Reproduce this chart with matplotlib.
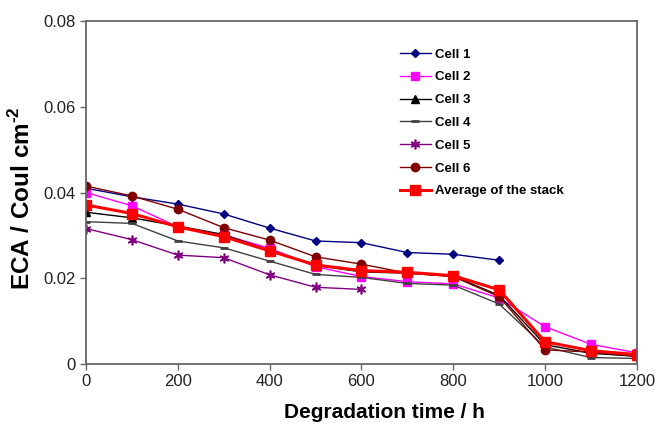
import matplotlib
matplotlib.use("Agg")
import matplotlib.pyplot as plt

plt.rcParams['font.family'] = ['Liberation Sans', 'DejaVu Sans']
plt.rcParams['mathtext.fontset'] = 'custom'
plt.rcParams['mathtext.rm'] = 'Liberation Sans:bold'
plt.rcParams['mathtext.bf'] = 'Liberation Sans:bold'

hours = [0, 100, 200, 300, 400, 500, 600, 700, 800, 900, 1000, 1100, 1200]

cell1 = [0.0410, 0.0390, 0.0373, 0.0350, 0.0317, 0.0287, 0.0283, 0.0260, 0.0256, 0.0242]
cell2 = [0.0400, 0.0369, 0.0320, 0.0301, 0.0270, 0.0227, 0.0204, 0.0192, 0.0187,
         0.0154, 0.0087, 0.0046, 0.0026]
cell3 = [0.0354, 0.0341, 0.0322, 0.0302, 0.0265, 0.0230, 0.0215, 0.0212, 0.0205,
         0.0160, 0.0045, 0.0025, 0.0018]
cell4 = [0.0332, 0.0328, 0.0287, 0.0271, 0.0240, 0.0209, 0.0202, 0.0188, 0.0184,
         0.0140, 0.0040, 0.0015, 0.0013]
cell5 = [0.0316, 0.0290, 0.0254, 0.0248, 0.0208, 0.0179, 0.0174]
cell6 = [0.0415, 0.0392, 0.0361, 0.0318, 0.0289, 0.0250, 0.0233, 0.0212, 0.0204,
         0.0157, 0.0033, 0.0028, 0.0018]
average = [0.0371, 0.0351, 0.0320, 0.0297, 0.0264, 0.0231, 0.0218, 0.0214, 0.0206,
           0.0173, 0.0052, 0.0031, 0.0022]

labels = ['Cell 1', 'Cell 2', 'Cell 3', 'Cell 4', 'Cell 5', 'Cell 6', 'Average of the stack']

fig = plt.figure(figsize=(6.62, 4.25), dpi=100)
ax = fig.add_axes([0.130, 0.1435, 0.832, 0.807])

asterisk = (6, 2, 0)
styles = [
    (cell1, dict(color='#000080', marker='D', markersize=4.5, lw=1.0)),
    (cell2, dict(color='#FF00FF', marker='s', markersize=5.5, lw=1.0)),
    (cell3, dict(color='#000000', marker='^', markersize=5.5, lw=1.0)),
    (cell4, dict(color='#404040', marker='_', markersize=6, markeredgewidth=2, lw=1.0)),
    (cell5, dict(color='#800080', marker=asterisk, markersize=7, markeredgewidth=1.2, lw=1.0)),
    (cell6, dict(color='#800000', marker='o', markersize=6, lw=1.0)),
    (average, dict(color='#FF0000', marker='s', markersize=7, lw=2.2)),
]

for (vals, st), lab in zip(styles, labels):
    ax.plot(hours[:len(vals)], vals, label=lab, **st)

ax.set_xlim(0, 1200)
ax.set_ylim(0, 0.08)
ax.set_xticks(range(0, 1201, 200))
ax.set_yticks([0, 0.02, 0.04, 0.06, 0.08])
ax.set_yticklabels(['0', '0.02', '0.04', '0.06', '0.08'])
ax.tick_params(direction='out', length=4.5, width=1, color='#666666', labelsize=12,
               labelcolor='#222222', pad=3)
for sp in ax.spines.values():
    sp.set_color('#666666')
    sp.set_linewidth(1.3)

ax.set_xlabel('Degradation time / h', fontsize=15, fontweight='bold')
ax.xaxis.set_label_coords(0.541, -0.115)
ax.set_ylabel('ECA / Coul cm$^{\\text{-2}}$', fontsize=17.5, fontweight='bold')
ax.yaxis.set_label_coords(-0.092, 0.485)

leg = ax.legend(loc='upper left', bbox_to_anchor=(0.548, 0.955), frameon=False,
                numpoints=1, handlelength=2.35, labelspacing=0.8,
                prop={'weight': 'bold', 'size': 9.5}, handletextpad=0.35)

fig.savefig('out.png', dpi=100)
